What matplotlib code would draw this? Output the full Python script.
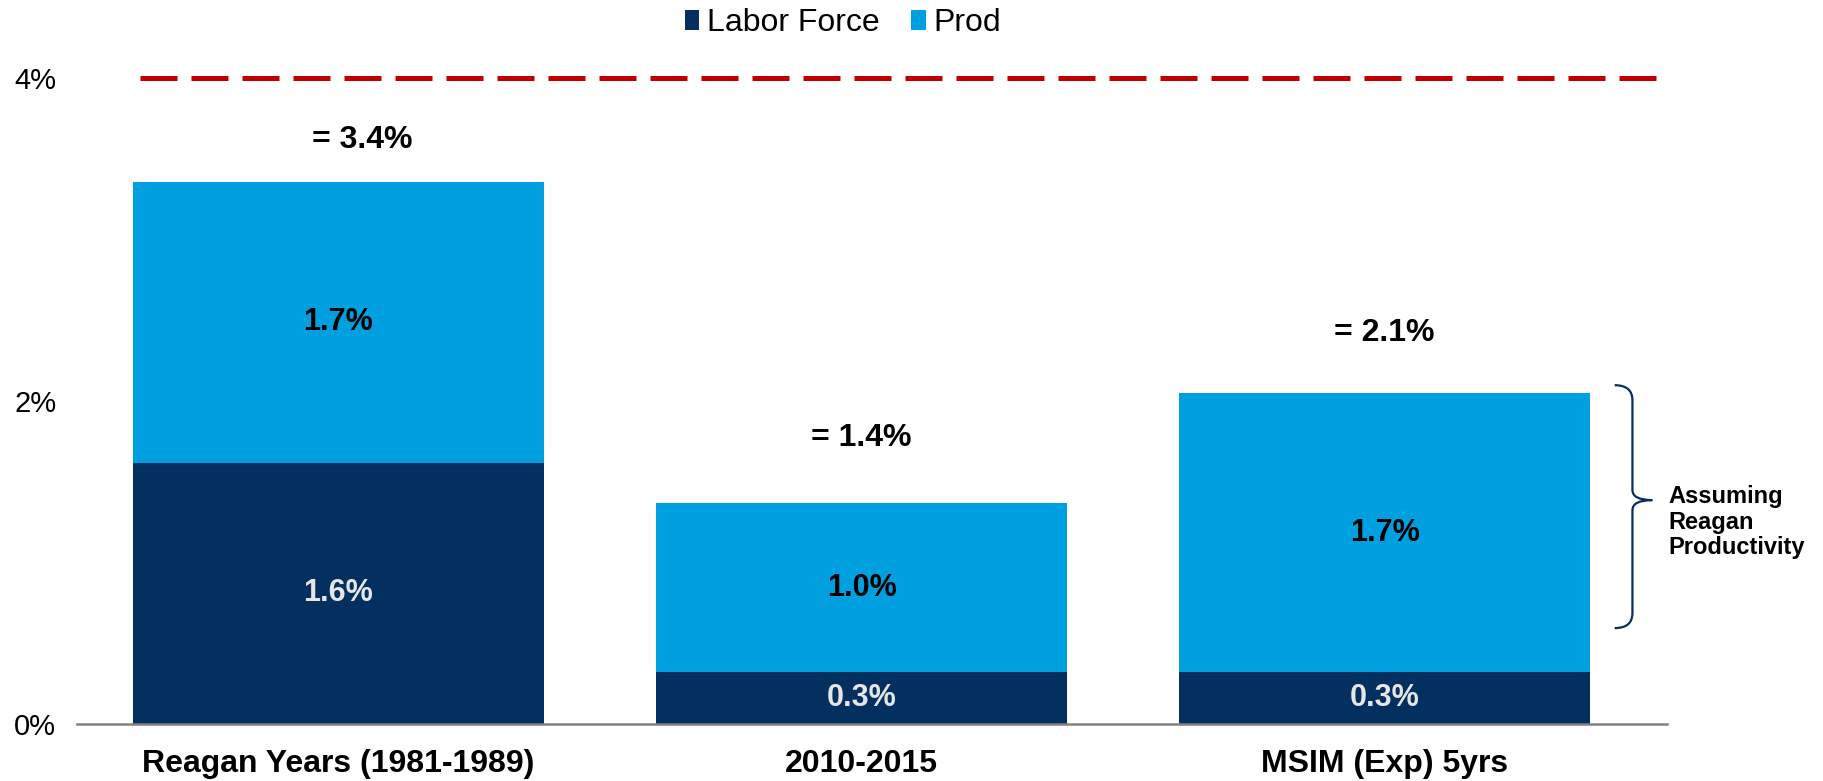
import matplotlib
matplotlib.use("Agg")
import matplotlib.pyplot as plt
import numpy as np
from matplotlib.patches import Patch, PathPatch
from matplotlib.path import Path

plt.rcParams["font.family"] = ["Liberation Sans", "DejaVu Sans"]

# data
categories = ["Reagan Years (1981-1989)", "2010-2015", "MSIM (Exp) 5yrs"]
labor_force = [1.62, 0.32, 0.32]
productivity = [1.74, 1.05, 1.73]
labor_labels = ["1.6%", "0.3%", "0.3%"]
prod_labels = ["1.7%", "1.0%", "1.7%"]
total_labels = ["= 3.4%", "= 1.4%", "= 2.1%"]
target_rate = 4.0
y_ticks = [0, 2, 4]
y_tick_labels = ["0%", "2%", "4%"]

LABOR_COLOR = "#03305F"
PROD_COLOR = "#00A0E0"
TARGET_COLOR = "#C00000"
BRACKET_COLOR = "#0B2D5E"

# layout
total_label_y = [3.62, 1.77, 2.42]
total_label_dx = [0.045, 0.0, 0.0]
bar_width = 0.786

fig = plt.figure(figsize=(18.24, 7.81), dpi=100)
ax = fig.add_axes([0.0422, 0.073, 0.8717, 0.868])

x = np.arange(len(categories), dtype=float)
labor = np.array(labor_force)
prod = np.array(productivity)

ax.bar(x, labor, width=bar_width, color=LABOR_COLOR, edgecolor="none", zorder=2)
ax.bar(x, prod, bottom=labor, width=bar_width, color=PROD_COLOR,
       edgecolor="none", zorder=2)

for i in range(len(categories)):
    ax.text(x[i], labor[i] / 2, labor_labels[i], ha="center", va="center",
            fontsize=22, fontweight="bold", color="#E6E6E6", zorder=3)
    ax.text(x[i], labor[i] + prod[i] / 2, prod_labels[i], ha="center",
            va="center", fontsize=22, fontweight="bold", color="black",
            zorder=3)
    ax.text(x[i] + total_label_dx[i], total_label_y[i], total_labels[i],
            ha="center", va="center", fontsize=23, fontweight="bold",
            color="black")

ax.set_xlim(-0.50, 2.54)
ax.set_ylim(0, 4.2)

ax.hlines(target_rate, -0.38, 2.545, colors=TARGET_COLOR, linewidth=3.6,
          linestyles=[(0, (7.4, 2.8))], zorder=2)

# bracket next to the last bar
hook, bx, tip = 2.440, 2.474, 2.512
top, mid, bot = 2.099, 1.387, 0.594
verts = [
    (hook, top), (bx, top), (bx, top - 0.093),
    (bx, mid + 0.063), (bx, mid), (tip, mid),
    (bx, mid), (bx, mid - 0.063),
    (bx, bot + 0.093), (bx, bot), (hook, bot),
]
codes = [
    Path.MOVETO, Path.CURVE3, Path.CURVE3,
    Path.LINETO, Path.CURVE3, Path.CURVE3,
    Path.CURVE3, Path.CURVE3,
    Path.LINETO, Path.CURVE3, Path.CURVE3,
]
ax.add_patch(PathPatch(Path(verts, codes), facecolor="none",
                       edgecolor=BRACKET_COLOR, linewidth=1.6,
                       clip_on=False))
ax.text(2.542, 1.25, "Assuming\nReagan\nProductivity", ha="left",
        va="center", fontsize=17, fontweight="bold", linespacing=1.15,
        clip_on=False)

ax.set_yticks(y_ticks)
ax.set_yticklabels(y_tick_labels, fontsize=21)
ax.set_xticks(x)
ax.set_xticklabels(categories, fontsize=23, fontweight="bold")
ax.tick_params(axis="y", length=0, pad=15)
ax.tick_params(axis="x", length=0, pad=18)

for side in ["top", "right", "left"]:
    ax.spines[side].set_visible(False)
ax.spines["bottom"].set_color("#808080")
ax.spines["bottom"].set_linewidth(1.8)
ax.spines["bottom"].set_zorder(4)

handles = [
    Patch(facecolor=LABOR_COLOR, edgecolor="none"),
    Patch(facecolor=PROD_COLOR, edgecolor="none"),
]
fig.legend(handles, ["Labor Force", "Prod"], loc="center",
           bbox_to_anchor=(843 / 1824, 1 - 23 / 781), ncol=2, frameon=False,
           fontsize=23, handlelength=0.45, handleheight=0.6,
           handletextpad=0.25, columnspacing=1.0, borderpad=0)

fig.savefig("out.png", dpi=100)
